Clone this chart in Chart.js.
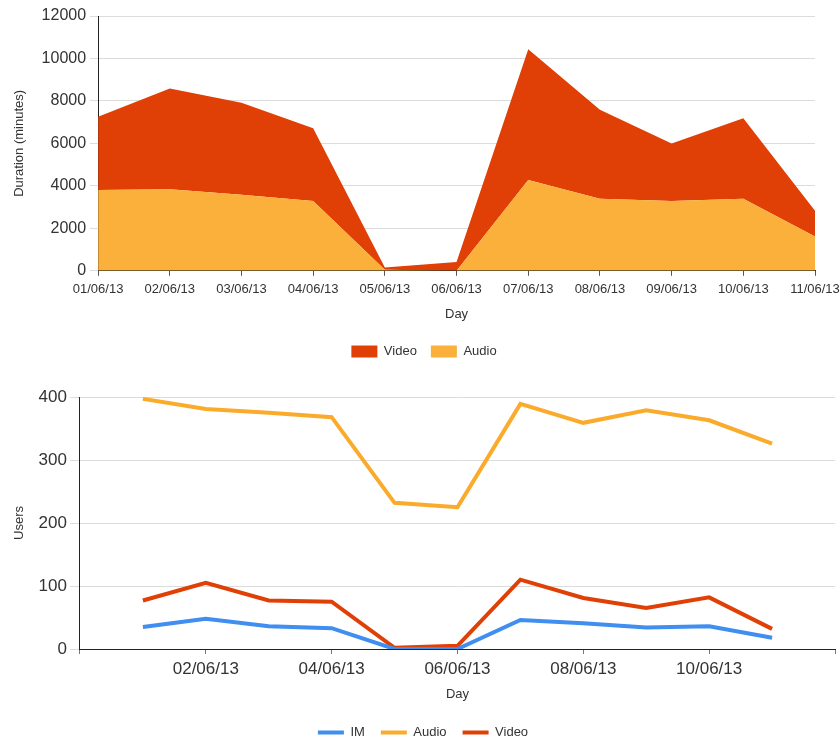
<!DOCTYPE html>
<html>
<head>
<meta charset="utf-8">
<script src="https://cdn.jsdelivr.net/npm/chart.js@4"></script>
<style>
    html, body { margin: 0; background: #fff; overflow: hidden; }
    #top { position: absolute; left: 0; top: 0; width: 840px; height: 372px; }
    #bottom { position: absolute; left: 0; top: 372px; width: 840px; height: 377px; }
</style>
</head>
<body>
<div id="top"><canvas id="durationChart"></canvas></div>
<div id="bottom"><canvas id="usersChart"></canvas></div>
<script>
// === DATA ===
const days = ["01/06/13", "02/06/13", "03/06/13", "04/06/13", "05/06/13", "06/06/13",
    "07/06/13", "08/06/13", "09/06/13", "10/06/13", "11/06/13"];

// duration (minutes), stacked
const audioMinutes = [3810, 3840, 3580, 3290, 50, 0, 4280, 3390, 3290, 3390, 1610];
const videoMinutes = [3440, 4740, 4340, 3420, 100, 410, 6150, 4190, 2710, 3800, 1220];

// users
const imUsers = [35, 48, 36, 33, 0, 0, 46, 41, 34, 36, 18];
const audioUsers = [397, 381, 375, 368, 232, 225, 389, 359, 379, 363, 326];
const videoUsers = [77, 105, 77, 75, 2, 5, 110, 81, 65, 82, 32];

const RED = "#e04006";
const ORANGE = "#fbb03b";
const LINE_ORANGE = "#fbab2c";
const BLUE = "#3f8ef0";

Chart.defaults.font.family = "'Liberation Sans', Arial, sans-serif";
Chart.defaults.color = "#333";
Chart.defaults.animation = false;

// === DURACION (AREA APILADA) ===
const durationChart = new Chart(document.getElementById("durationChart"), {
    type: "line",
    data: {
        labels: days,
        datasets: [
            {
                label: "Audio",
                data: audioMinutes,
                backgroundColor: ORANGE,
                borderColor: ORANGE,
                borderWidth: 0,
                pointRadius: 0,
                fill: "origin"
            },
            {
                label: "Video",
                data: videoMinutes,
                backgroundColor: RED,
                borderColor: RED,
                borderWidth: 0,
                pointRadius: 0,
                fill: "-1"
            }
        ]
    },
    options: {
        responsive: true,
        maintainAspectRatio: false,
        layout: { padding: { top: 16, left: 8, right: 0, bottom: 4 } },
        plugins: {
            tooltip: { enabled: false },
            legend: {
                position: "bottom",
                reverse: true,
                labels: { boxWidth: 26, boxHeight: 12, padding: 14, font: { size: 13 } }
            }
        },
        scales: {
            x: {
                offset: false,
                afterFit: s => { s.paddingRight = 25; },  // last label may overhang the edge
                grid: { drawOnChartArea: false, tickLength: 5, color: "#555" },
                border: { color: "#222", width: 1 },
                ticks: { font: { size: 13 }, maxRotation: 0, autoSkip: false, padding: 6 },
                title: { display: true, text: "Day", font: { size: 13 }, padding: { top: 3, bottom: 9 } }
            },
            y: {
                stacked: true,
                min: 0,
                max: 12000,
                grid: { color: "#dcdcdc", tickLength: 8 },
                border: { color: "#222", width: 1 },
                ticks: { stepSize: 2000, font: { size: 16 }, padding: 4, callback: v => String(v) },
                title: { display: true, text: "Duration (minutes)", font: { size: 13 }, padding: { bottom: 10 } }
            }
        }
    }
});

// === USUARIOS (LINEAS) ===
const toPoints = arr => arr.map((v, i) => ({ x: i + 1, y: v }));

const usersChart = new Chart(document.getElementById("usersChart"), {
    type: "line",
    data: {
        datasets: [
            { label: "IM", data: toPoints(imUsers), borderColor: BLUE, backgroundColor: BLUE, borderWidth: 4, pointRadius: 0 },
            { label: "Audio", data: toPoints(audioUsers), borderColor: LINE_ORANGE, backgroundColor: LINE_ORANGE, borderWidth: 4, pointRadius: 0 },
            { label: "Video", data: toPoints(videoUsers), borderColor: RED, backgroundColor: RED, borderWidth: 4, pointRadius: 0 }
        ]
    },
    options: {
        responsive: true,
        maintainAspectRatio: false,
        layout: { padding: { top: 25, left: 8, right: 2, bottom: 0 } },
        plugins: {
            tooltip: { enabled: false },
            legend: {
                position: "bottom",
                labels: { usePointStyle: true, pointStyle: "line", pointStyleWidth: 26, padding: 16, font: { size: 13 } }
            }
        },
        scales: {
            x: {
                type: "linear",
                min: 0,
                max: 12,
                grid: { drawOnChartArea: false, tickLength: 5, color: "#777" },
                border: { color: "#222", width: 1 },
                ticks: {
                    stepSize: 2,
                    font: { size: 17 },
                    maxRotation: 0,
                    padding: 5,
                    callback: v => (v > 0 && v < 12) ? days[v - 1] : ""
                },
                title: { display: true, text: "Day", font: { size: 13 }, padding: { top: 2, bottom: 8 } }
            },
            y: {
                min: 0,
                max: 400,
                grid: { color: "#dcdcdc", tickLength: 10 },
                border: { color: "#222", width: 1 },
                ticks: { stepSize: 100, font: { size: 17 }, padding: 3 },
                title: { display: true, text: "Users", font: { size: 13 }, padding: { bottom: 8 } }
            }
        }
    }
});
</script>
</body>
</html>
